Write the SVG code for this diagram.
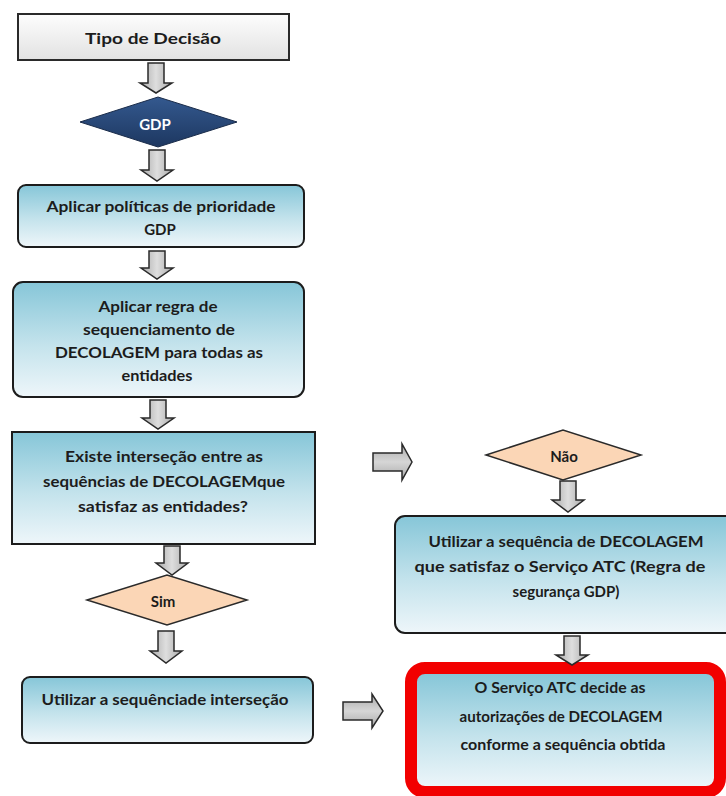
<svg xmlns="http://www.w3.org/2000/svg" width="726" height="796" viewBox="0 0 726 796">
  <defs>
    <linearGradient id="gBlue" x1="0" y1="0" x2="0" y2="1">
      <stop offset="0" stop-color="#86c6d8"/>
      <stop offset="0.55" stop-color="#c4e3ec"/>
      <stop offset="1" stop-color="#eef6fa"/>
    </linearGradient>
    <linearGradient id="gGrey" x1="0" y1="0" x2="0" y2="1">
      <stop offset="0" stop-color="#fdfdfd"/>
      <stop offset="1" stop-color="#e2e2e2"/>
    </linearGradient>
    <linearGradient id="gNavy" x1="0" y1="0" x2="0" y2="1">
      <stop offset="0" stop-color="#34598f"/>
      <stop offset="1" stop-color="#1d3760"/>
    </linearGradient>
    <linearGradient id="gArrowV" x1="0" y1="0" x2="1" y2="0">
      <stop offset="0" stop-color="#a9a9a9"/>
      <stop offset="0.5" stop-color="#dedede"/>
      <stop offset="1" stop-color="#a9a9a9"/>
    </linearGradient>
    <linearGradient id="gArrowH" x1="0" y1="0" x2="0" y2="1">
      <stop offset="0" stop-color="#a9a9a9"/>
      <stop offset="0.5" stop-color="#d6d6d6"/>
      <stop offset="1" stop-color="#a9a9a9"/>
    </linearGradient>
  </defs>
  <style>
    .box { fill: url(#gBlue); stroke: #1c1c1c; stroke-width: 2; }
    .grey { fill: url(#gGrey); stroke: #2a2a2a; stroke-width: 2; }
    .peach { fill: #fbd6b6; stroke: #2a2a2a; stroke-width: 1.5; }
    .navy { fill: url(#gNavy); stroke: #1a2c4a; stroke-width: 1; }
    .av { fill: url(#gArrowV); stroke: #2a2a2a; stroke-width: 1.5; stroke-linejoin: miter; }
    .ah { fill: url(#gArrowH); stroke: #2a2a2a; stroke-width: 1.5; stroke-linejoin: miter; }
    text { font-family: Lato, "DejaVu Sans Condensed", sans-serif; font-size: 15px; font-weight: bold; fill: #1c1c1c; text-anchor: middle; }
    .w { fill: #ffffff; }
  </style>

  <g id="connectors">
    <!-- downward block arrows -->
    <path class="av" d="M148,63 H164 V83 H172 L156,93 L140,83 H148 Z"/>
    <path class="av" d="M149,150 H165 V170 H173 L157,181 L141,170 H149 Z"/>
    <path class="av" d="M149,251 H165 V268 H173 L157,279 L141,268 H149 Z"/>
    <path class="av" d="M150,400 H166 V418 H174 L158,429 L142,418 H150 Z"/>
    <path class="av" d="M164,546 H180 V563 H188 L172,575 L156,563 H164 Z"/>
    <path class="av" d="M158,631 H174 V651 H182 L166,663 L150,651 H158 Z"/>
    <path class="av" d="M560,481 H576 V500 H584 L568,512 L552,500 H560 Z"/>
    <!-- rightward block arrows -->
    <path class="ah" d="M373,453 V471 H402 V480 L412,462 L402,444 V453 Z"/>
    <path class="ah" d="M343,702 V720 H372 V728 L383,711 L372,694 V702 Z"/>
  </g>

  <g id="tipo">
    <rect class="grey" x="18" y="14" width="271" height="46"/>
    <text x="153" y="44" font-size="16" textLength="136" lengthAdjust="spacingAndGlyphs">Tipo de Decisão</text>
  </g>

  <g id="gdp">
    <polygon class="navy" points="80,122 158,97 237,122 158,147"/>
    <text class="w" x="155" y="130" font-size="14">GDP</text>
  </g>

  <g id="politicas">
    <rect class="box" x="18" y="185" width="286" height="62" rx="8"/>
    <text x="161" y="212" textLength="229" lengthAdjust="spacingAndGlyphs">Aplicar políticas de prioridade</text>
    <text x="160" y="235">GDP</text>
  </g>

  <g id="regra">
    <rect class="box" x="13" y="282" width="291" height="115" rx="10"/>
    <text x="158" y="312" textLength="119" lengthAdjust="spacingAndGlyphs">Aplicar regra de</text>
    <text x="159" y="335" textLength="152" lengthAdjust="spacingAndGlyphs">sequenciamento de</text>
    <text x="159" y="358" textLength="208" lengthAdjust="spacingAndGlyphs">DECOLAGEM para todas as</text>
    <text x="157" y="381" textLength="71" lengthAdjust="spacingAndGlyphs">entidades</text>
  </g>

  <g id="existe">
    <rect class="box" x="12" y="432" width="303" height="112"/>
    <text x="164" y="462" textLength="198" lengthAdjust="spacingAndGlyphs">Existe interseção entre as</text>
    <text x="164" y="487" textLength="242" lengthAdjust="spacingAndGlyphs">sequências de DECOLAGEMque</text>
    <text x="163" y="512" textLength="170" lengthAdjust="spacingAndGlyphs">satisfaz as entidades?</text>
  </g>

  <g id="sim">
    <polygon class="peach" points="87,600 167,575 247,600 167,625"/>
    <text x="163" y="607" font-size="14">Sim</text>
  </g>

  <g id="intersecao">
    <rect class="box" x="22" y="677" width="291" height="66" rx="8"/>
    <text x="165" y="705" textLength="247" lengthAdjust="spacingAndGlyphs">Utilizar a sequênciade interseção</text>
  </g>

  <g id="nao">
    <polygon class="peach" points="486,455 563,430 641,455 563,480"/>
    <text x="564" y="462" font-size="14">Não</text>
  </g>

  <g id="seguranca">
    <rect class="box" x="395" y="516" width="345" height="117" rx="10"/>
    <text x="566" y="547" textLength="275" lengthAdjust="spacingAndGlyphs">Utilizar a sequência de DECOLAGEM</text>
    <text x="560" y="572" textLength="291" lengthAdjust="spacingAndGlyphs">que satisfaz o Serviço ATC (Regra de</text>
    <text x="566" y="597">segurança GDP)</text>
  </g>

  <g id="decisao-atc">
    <rect x="416" y="673" width="300" height="116" rx="8" fill="url(#gBlue)"/>
    <rect x="411" y="668" width="309" height="124" rx="14" fill="none" stroke="#f20000" stroke-width="12"/>
    <text x="560" y="693" textLength="171" lengthAdjust="spacingAndGlyphs">O Serviço ATC decide as</text>
    <text x="561" y="722" textLength="203" lengthAdjust="spacingAndGlyphs">autorizações de DECOLAGEM</text>
    <text x="563" y="750" textLength="205" lengthAdjust="spacingAndGlyphs">conforme a sequência obtida</text>
  </g>

  <!-- arrow overlapping the red frame -->
  <g id="connector-atc">
    <path class="av" d="M564,636 H580 V655 H588 L572,665 L556,655 H564 Z"/>
  </g>
</svg>
